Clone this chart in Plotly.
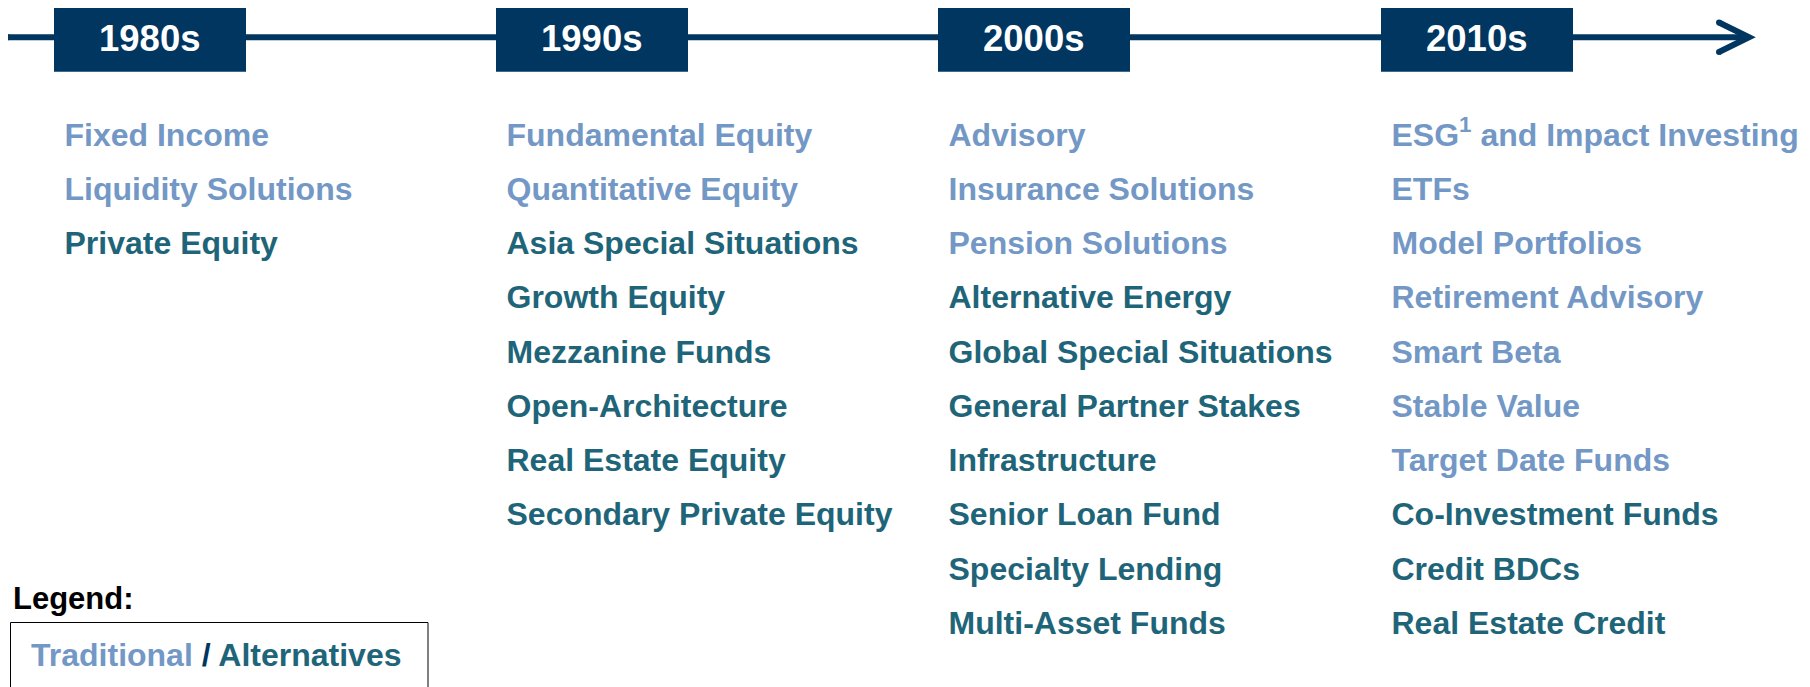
import plotly.graph_objects as go

# ---------------- data ----------------
decades = ["1980s", "1990s", "2000s", "2010s"]

items_1980s = ["Fixed Income", "Liquidity Solutions", "Private Equity"]
types_1980s = ["T", "T", "A"]

items_1990s = ["Fundamental Equity", "Quantitative Equity", "Asia Special Situations",
               "Growth Equity", "Mezzanine Funds", "Open-Architecture",
               "Real Estate Equity", "Secondary Private Equity"]
types_1990s = ["T", "T", "A", "A", "A", "A", "A", "A"]

items_2000s = ["Advisory", "Insurance Solutions", "Pension Solutions",
               "Alternative Energy", "Global Special Situations", "General Partner Stakes",
               "Infrastructure", "Senior Loan Fund", "Specialty Lending", "Multi-Asset Funds"]
types_2000s = ["T", "T", "T", "A", "A", "A", "A", "A", "A", "A"]

items_2010s = ["ESG<sup>1</sup> and Impact Investing", "ETFs", "Model Portfolios",
               "Retirement Advisory", "Smart Beta", "Stable Value", "Target Date Funds",
               "Co-Investment Funds", "Credit BDCs", "Real Estate Credit"]
types_2010s = ["T", "T", "T", "T", "T", "T", "T", "A", "A", "A"]

legend_labels = ["Traditional", "Alternatives"]

# ---------------- style ----------------
W, H = 1810, 687
OFF = 8  # page body margin
NAVY = "#003660"
TRAD = "#7398C6"
ALT = "#1F6579"
FONT = "Arial, 'Liberation Sans', sans-serif"

col_left = [54, 496, 938, 1381]
box_w = 192
box_top, box_bot = 4.3, 71.7
line_y = 37.3
row0, row_step = 137.5, 54.27
text_dx = 10.5
item_size = 32

fig = go.Figure()

# timeline line + arrow
fig.add_shape(type="line", x0=8, x1=1748, y0=line_y, y1=line_y,
              line=dict(color=NAVY, width=6), layer="below")
fig.add_shape(type="path", path=f"M 1719 22.5 L 1749 {line_y} L 1719 52",
              line=dict(color=NAVY, width=6), layer="below")
for cx, cy in [(8, line_y), (1719, 22.5), (1719, 52)]:
    fig.add_shape(type="circle", x0=cx - 3, x1=cx + 3, y0=cy - 3, y1=cy + 3,
                  fillcolor=NAVY, line=dict(width=0), layer="below")

# decade boxes
for i, d in enumerate(decades):
    x0 = col_left[i]
    fig.add_shape(type="rect", x0=x0, x1=x0 + box_w, y0=box_top, y1=box_bot,
                  fillcolor=NAVY, line=dict(width=0), layer="above")
    fig.add_annotation(x=x0 + box_w / 2, y=(box_top + box_bot) / 2,
                       text=f"<b>{d}</b>", showarrow=False,
                       font=dict(family=FONT, size=36.5, color="white"),
                       xanchor="center", yanchor="middle")

# items
all_items = [items_1980s, items_1990s, items_2000s, items_2010s]
all_types = [types_1980s, types_1990s, types_2000s, types_2010s]
for kind, color, name in [("T", TRAD, "Traditional"), ("A", ALT, "Alternatives")]:
    xs, ys, ts = [], [], []
    for ci, (its, tys) in enumerate(zip(all_items, all_types)):
        for ri, (it, ty) in enumerate(zip(its, tys)):
            if ty == kind:
                xs.append(col_left[ci] + text_dx)
                ys.append(row0 + row_step * ri)
                ts.append(f"<b>{it}</b>")
    fig.add_trace(go.Scatter(x=xs, y=ys, text=ts, mode="text", name=name,
                             textposition="middle right",
                             textfont=dict(family=FONT, size=item_size, color=color),
                             hoverinfo="skip", showlegend=False))

# legend
fig.add_annotation(x=11, y=598.5, text="<b>Legend:</b>", showarrow=False,
                   font=dict(family=FONT, size=31, color="black"),
                   xanchor="left", yanchor="middle")
fig.add_shape(type="rect", x0=10.5, x1=428, y0=622.5, y1=710,
              line=dict(color="black", width=1), fillcolor="rgba(0,0,0,0)")
fig.add_annotation(x=29, y=655,
                   text=(f"<b><span style='color:{TRAD}'>{legend_labels[0]}</span>"
                         f"<span style='color:{NAVY}'> / </span>"
                         f"<span style='color:{ALT}'>{legend_labels[1]}</span></b>"),
                   showarrow=False, font=dict(family=FONT, size=32),
                   xanchor="left", yanchor="middle")

fig.update_layout(width=W, height=H, margin=dict(l=0, r=0, t=0, b=0),
                  paper_bgcolor="white", plot_bgcolor="white",
                  xaxis=dict(range=[OFF, W + OFF], visible=False, fixedrange=True),
                  yaxis=dict(range=[H + OFF, OFF], visible=False, fixedrange=True))

fig.write_html("out.html")
